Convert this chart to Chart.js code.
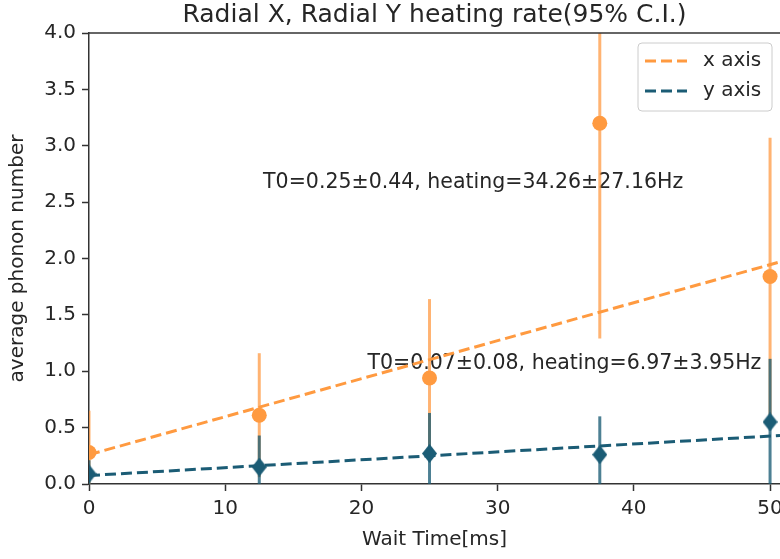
<!DOCTYPE html>
<html>
<head>
<meta charset="utf-8">
<script src="https://cdn.jsdelivr.net/npm/chart.js@4.4.1/dist/chart.umd.min.js"></script>
<style>
  html, body { margin: 0; padding: 0; background: #ffffff; }
  #wrap { position: relative; width: 780px; height: 559px; }
</style>
</head>
<body>
<div id="wrap"><canvas id="c"></canvas></div>
<script>
// ---- data ----
const waitTimeMs = [0, 12.5, 25, 37.5, 50];
const xAxisPhonon = [0.28, 0.61, 0.94, 3.20, 1.84];
const xAxisCI = [0.37, 0.55, 0.70, 1.91, 1.23];
const yAxisPhonon = [0.09, 0.15, 0.27, 0.26, 0.55];
const yAxisCI = [0.12, 0.28, 0.36, 0.34, 0.56];
const fitTimeMs = [0, 50.73];
const xAxisFit = [0.26, 1.97];
const yAxisFit = [0.075, 0.43];
const seriesNames = ['x axis', 'y axis'];
const fitTexts = ['T0=0.25\u00b10.44, heating=34.26\u00b127.16Hz', 'T0=0.07\u00b10.08, heating=6.97\u00b13.95Hz'];
const fitTextX = [28.2, 34.9];
const fitTextY = [2.67, 1.07];
const chartTitle = 'Radial X, Radial Y heating rate(95% C.I.)';
const xTitle = 'Wait Time[ms]';
const yTitle = 'average phonon number';

const FONT = 'DejaVu Sans';
const ORANGE = '#ff9a40';
const ORANGE_BAR = 'rgba(255,150,60,0.72)';
const TEAL = '#1b5c75';
const TEAL_BAR = 'rgba(27,92,117,0.78)';
const TEXT = '#262626';

function makeDiamond(w, h, color) {
  const c = document.createElement('canvas');
  c.width = w; c.height = h;
  const g = c.getContext('2d');
  g.fillStyle = color;
  g.beginPath();
  g.moveTo(w / 2, 0); g.lineTo(w, h / 2); g.lineTo(w / 2, h); g.lineTo(0, h / 2);
  g.closePath(); g.fill();
  return c;
}
const diamond = makeDiamond(15, 19, TEAL);

const pts = (xs, ys) => xs.map((x, i) => ({ x: x, y: ys[i] }));

const errorSeries = [
  { values: xAxisPhonon, ci: xAxisCI, color: ORANGE_BAR },
  { values: yAxisPhonon, ci: yAxisCI, color: TEAL_BAR }
];

const extras = {
  id: 'extras',
  beforeDatasetsDraw(chart) {
    const { ctx, chartArea: a, scales: { x, y } } = chart;
    ctx.save();
    // annotation texts
    ctx.font = '20.5px "' + FONT + '"';
    ctx.fillStyle = TEXT;
    ctx.textAlign = 'center';
    ctx.textBaseline = 'middle';
    fitTexts.forEach((t, i) => {
      ctx.fillText(t, x.getPixelForValue(fitTextX[i]), y.getPixelForValue(fitTextY[i]));
    });
    // error bars
    ctx.beginPath();
    ctx.rect(a.left, a.top, a.right - a.left, a.bottom - a.top);
    ctx.clip();
    ctx.lineWidth = 3;
    errorSeries.forEach(s => {
      ctx.strokeStyle = s.color;
      waitTimeMs.forEach((t, i) => {
        const px = x.getPixelForValue(t);
        ctx.beginPath();
        ctx.moveTo(px, y.getPixelForValue(s.values[i] - s.ci[i]));
        ctx.lineTo(px, y.getPixelForValue(s.values[i] + s.ci[i]));
        ctx.stroke();
      });
    });
    ctx.restore();
  },
  afterDraw(chart) {
    const { ctx, chartArea: a } = chart;
    ctx.save();
    // top spine
    ctx.strokeStyle = '#333';
    ctx.lineWidth = 1.5;
    ctx.beginPath();
    ctx.moveTo(a.left - 0.75, a.top);
    ctx.lineTo(a.right, a.top);
    ctx.stroke();
    // legend
    const bx = a.right - 142, by = a.top + 10, bw = 134, bh = 68, r = 4;
    ctx.beginPath();
    ctx.moveTo(bx + r, by);
    ctx.arcTo(bx + bw, by, bx + bw, by + bh, r);
    ctx.arcTo(bx + bw, by + bh, bx, by + bh, r);
    ctx.arcTo(bx, by + bh, bx, by, r);
    ctx.arcTo(bx, by, bx + bw, by, r);
    ctx.closePath();
    ctx.fillStyle = 'rgba(255,255,255,0.8)';
    ctx.fill();
    ctx.strokeStyle = '#cccccc';
    ctx.lineWidth = 1;
    ctx.stroke();
    const colors = [ORANGE, TEAL];
    ctx.font = '20px "' + FONT + '"';
    ctx.textAlign = 'left';
    ctx.textBaseline = 'middle';
    seriesNames.forEach((name, i) => {
      const ly = by + 18 + i * 30;
      ctx.strokeStyle = colors[i];
      ctx.lineWidth = 3;
      ctx.setLineDash([11, 5]);
      ctx.beginPath();
      ctx.moveTo(bx + 7, ly);
      ctx.lineTo(bx + 49, ly);
      ctx.stroke();
      ctx.setLineDash([]);
      ctx.fillStyle = TEXT;
      ctx.fillText(name, bx + 65, ly);
    });
    ctx.restore();
  }
};

const tickFont = { family: FONT, size: 20 };

new Chart(document.getElementById('c'), {
  type: 'line',
  data: {
    datasets: [
      { label: seriesNames[0] + ' data', data: pts(waitTimeMs, xAxisPhonon), showLine: false,
        pointStyle: 'circle', pointRadius: 7.5, pointBackgroundColor: ORANGE, pointBorderWidth: 0,
        borderColor: ORANGE, order: 0, clip: 0 },
      { label: seriesNames[1] + ' data', data: pts(waitTimeMs, yAxisPhonon), showLine: false,
        pointStyle: diamond, pointRadius: 8, pointBorderWidth: 0,
        borderColor: TEAL, order: 0, clip: 0 },
      { label: seriesNames[0], data: pts(fitTimeMs, xAxisFit), borderColor: ORANGE, borderWidth: 3,
        borderDash: [11, 5], pointRadius: 0, fill: false, order: 1, clip: 0 },
      { label: seriesNames[1], data: pts(fitTimeMs, yAxisFit), borderColor: TEAL, borderWidth: 3,
        borderDash: [11, 5], pointRadius: 0, fill: false, order: 1, clip: 0 }
    ]
  },
  options: {
    responsive: true,
    maintainAspectRatio: false,
    devicePixelRatio: 1,
    animation: false,
    layout: { padding: 0, autoPadding: false },
    plugins: {
      legend: { display: false },
      tooltip: { enabled: false },
      title: {
        display: true, text: chartTitle, color: TEXT, fullSize: false,
        font: { family: FONT, size: 25, weight: 'normal', lineHeight: 1.2 },
        padding: { top: 0, bottom: 3 }
      }
    },
    scales: {
      x: {
        type: 'linear', min: 0, max: 50.73,
        ticks: { stepSize: 10, includeBounds: false, font: tickFont, color: TEXT, padding: 6, maxRotation: 0 },
        grid: { drawOnChartArea: false, drawTicks: true, tickLength: 7, tickWidth: 1.5, tickColor: '#333' },
        border: { display: true, color: '#333', width: 1.5 },
        title: { display: true, text: xTitle, color: TEXT, font: { family: FONT, size: 20 }, padding: { top: 0, bottom: 7 } },
        afterFit(s) { s.height = 75; s.paddingLeft = 0; s.paddingRight = 0; }
      },
      y: {
        type: 'linear', min: 0, max: 4,
        ticks: { stepSize: 0.5, font: tickFont, color: TEXT, padding: 6, callback: v => Number(v).toFixed(1) },
        grid: { drawOnChartArea: false, drawTicks: true, tickLength: 7, tickWidth: 1.5, tickColor: '#333' },
        border: { display: true, color: '#333', width: 1.5 },
        title: { display: true, text: yTitle, color: TEXT, font: { family: FONT, size: 20 }, padding: { top: 6, bottom: 0 } },
        afterFit(s) { s.width = 89; s.paddingTop = 0; s.paddingBottom = 0; }
      }
    }
  },
  plugins: [extras]
});
</script>
</body>
</html>
